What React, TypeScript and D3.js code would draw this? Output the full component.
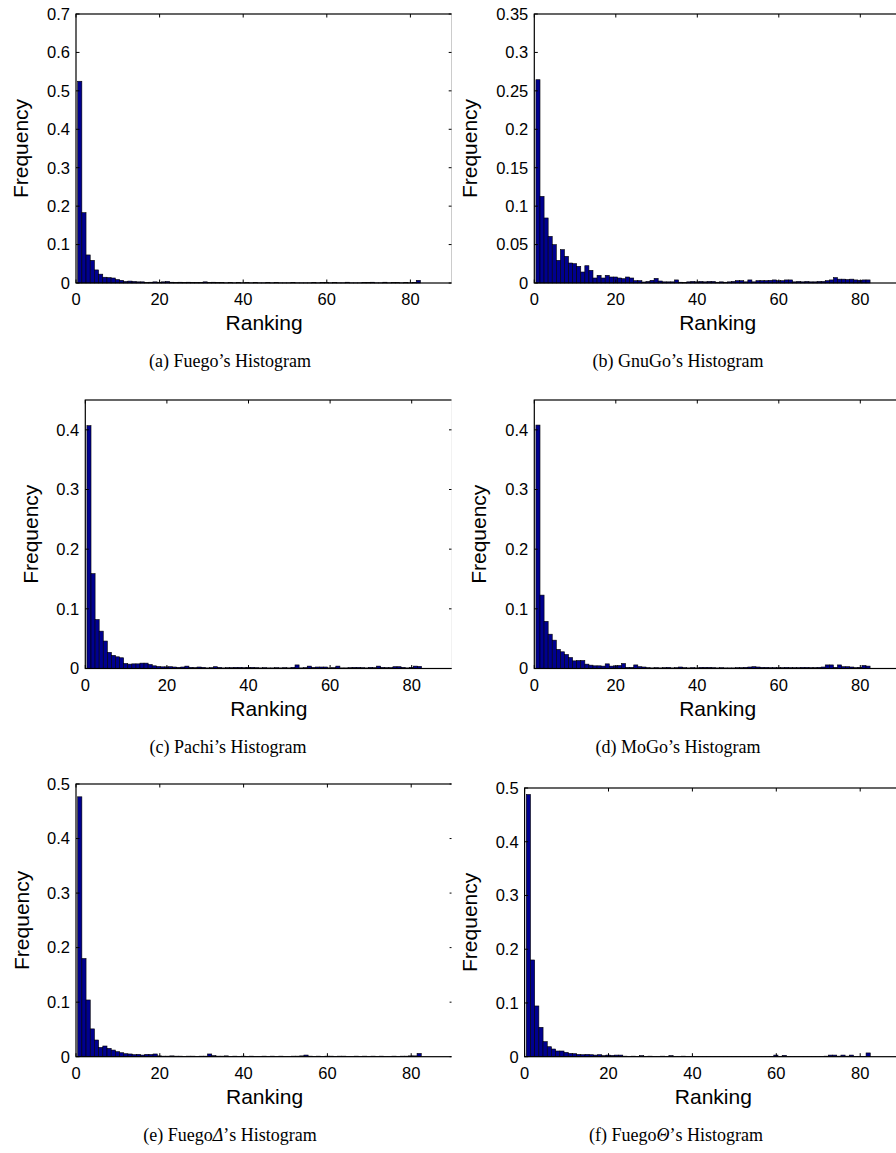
import React from 'react';
import * as d3 from 'd3';

// ---------- data (ranking 1..82) ----------
const fuego = [0.525,0.183,0.073,0.059,0.034,0.023,0.015,0.014,0.013,0.009,
0.007,0.004,0.005,0.004,0.003,0.003,0.001,0.002,0.003,0.002,
0.003,0.004,0.002,0.001,0.002,0.001,0.002,0.001,0.001,0.001,
0.003,0.001,0.002,0.001,0.001,0.0005,0.001,0.0005,0.001,0.0005,
0.001,0.0005,0.001,0.0005,0.0005,0.001,0.0005,0.001,0.0005,0.0005,
0.0005,0.001,0.0005,0.0005,0.0005,0.0005,0.001,0.0005,0.001,0.001,
0.0005,0.001,0.0005,0.0005,0.002,0.0005,0.0005,0.0005,0.001,0.001,
0.002,0.0005,0.0005,0.002,0.0005,0.001,0.001,0.0005,0.001,0.0005,
0.001,0.007];

const gnugo = [0.2645,0.1127,0.0846,0.0607,0.0499,0.0295,0.0434,0.0347,0.026,0.0252,
0.0217,0.0143,0.0225,0.0165,0.0065,0.010,0.0065,0.010,0.0078,0.0078,
0.0065,0.0056,0.0078,0.0065,0.003,0.003,0.0013,0.002,0.0035,0.006,
0.0026,0.0015,0.0015,0.0015,0.004,0.001,0.0005,0.0015,0.002,0.0015,
0.002,0.0015,0.002,0.002,0.001,0.0015,0.001,0.0015,0.002,0.003,
0.003,0.0015,0.004,0.0015,0.003,0.003,0.003,0.0035,0.004,0.003,
0.003,0.004,0.004,0.0015,0.002,0.0015,0.002,0.0015,0.0015,0.002,
0.002,0.003,0.004,0.007,0.005,0.005,0.0045,0.005,0.004,0.0035,
0.004,0.004];

const pachi = [0.407,0.159,0.082,0.0626,0.046,0.027,0.022,0.0196,0.018,0.0084,
0.0073,0.0078,0.0078,0.009,0.009,0.0067,0.0045,0.0034,0.0028,0.0028,
0.003,0.0025,0.002,0.0025,0.004,0.002,0.0015,0.0025,0.002,0.001,
0.0015,0.003,0.002,0.001,0.0015,0.0015,0.002,0.002,0.0015,0.002,
0.002,0.0015,0.001,0.0015,0.001,0.001,0.0015,0.001,0.0015,0.001,
0.002,0.006,0.001,0.0015,0.004,0.002,0.0025,0.0025,0.0025,0.001,
0.0015,0.004,0.001,0.001,0.0015,0.002,0.002,0.0015,0.001,0.002,
0.0015,0.004,0.002,0.0015,0.0015,0.003,0.003,0.002,0.001,0.002,
0.004,0.0035];

const mogo = [0.408,0.123,0.079,0.0575,0.0475,0.032,0.028,0.0235,0.0184,0.0128,
0.0134,0.0134,0.0073,0.0056,0.0045,0.0045,0.004,0.0078,0.004,0.0045,
0.005,0.0084,0.002,0.002,0.006,0.003,0.0025,0.0015,0.001,0.0015,
0.001,0.0015,0.002,0.001,0.0015,0.0025,0.0015,0.001,0.0015,0.001,
0.002,0.002,0.002,0.0015,0.001,0.0015,0.001,0.001,0.001,0.0015,
0.0015,0.002,0.0025,0.003,0.0025,0.002,0.002,0.0015,0.0015,0.0015,
0.0015,0.002,0.0015,0.0015,0.0015,0.002,0.002,0.0015,0.0015,0.002,
0.0025,0.006,0.006,0.002,0.006,0.003,0.003,0.0025,0.0015,0.002,
0.005,0.004];

const fuegoDelta = [0.4765,0.180,0.104,0.051,0.0306,0.017,0.0196,0.0153,0.0122,0.0092,
0.0073,0.0055,0.005,0.0037,0.0043,0.003,0.0043,0.004,0.005,0.0015,
0.001,0.001,0.0015,0.001,0.001,0.0005,0.001,0.001,0.0005,0.001,
0.001,0.005,0.002,0.001,0.001,0.0015,0.0005,0.001,0.0005,0.001,
0.0005,0.001,0.0005,0.0005,0.001,0.0005,0.001,0.0005,0.001,0.0005,
0.0005,0.001,0.001,0.0015,0.003,0.001,0.0005,0.001,0.0005,0.001,
0.001,0.0005,0.001,0.001,0.0005,0.0005,0.001,0.0005,0.001,0.0005,
0.001,0.0005,0.001,0.0005,0.0005,0.001,0.0005,0.001,0.001,0.0015,
0.0015,0.006];

const fuegoTheta = [0.488,0.180,0.0944,0.0547,0.028,0.0186,0.0143,0.0106,0.0106,0.0081,
0.0062,0.0056,0.0043,0.0037,0.0043,0.0037,0.003,0.0037,0.002,0.003,
0.0025,0.003,0.003,0.001,0.0005,0.001,0.0005,0.002,0.0005,0.001,
0.0005,0.0005,0.001,0.0005,0.002,0.0005,0.0005,0.001,0.0005,0.0005,
0.0005,0.0005,0.0005,0.0005,0.0005,0.0005,0.0005,0.0005,0.0005,0.0005,
0.0005,0.0005,0.0005,0.0005,0.0005,0.0005,0.0005,0.0005,0.0005,0.003,
0.0005,0.0025,0.0005,0.0005,0.0005,0.0005,0.0005,0.0005,0.0005,0.0005,
0.0005,0.001,0.003,0.003,0.001,0.003,0.001,0.003,0.0005,0.0005,
0.0005,0.007];

const xTicks = [0, 20, 40, 60, 80];
const yTicksA = [0, 0.1, 0.2, 0.3, 0.4, 0.5, 0.6, 0.7];
const yTicksB = [0, 0.05, 0.1, 0.15, 0.2, 0.25, 0.3, 0.35];
const yTicksCD = [0, 0.1, 0.2, 0.3, 0.4];
const yTicksEF = [0, 0.1, 0.2, 0.3, 0.4, 0.5];

const xLabel = 'Ranking';
const yLabel = 'Frequency';

const captions: (string | { i: string })[][] = [
  ['(a) Fuego’s Histogram'],
  ['(b) GnuGo’s Histogram'],
  ['(c) Pachi’s Histogram'],
  ['(d) MoGo’s Histogram'],
  ['(e) Fuego', { i: 'Δ' }, '’s Histogram'],
  ['(f) Fuego', { i: 'Θ' }, '’s Histogram'],
];

const seriesList = [fuego, gnugo, pachi, mogo, fuegoDelta, fuegoTheta];
const yMaxes = [0.7, 0.35, 0.45, 0.45, 0.5, 0.5];
const yTickSets = [yTicksA, yTicksB, yTicksCD, yTicksCD, yTicksEF, yTicksEF];

// ---------- layout ----------
const layouts = [
  { left: 76, top: 14, bottom: 283, ppu: 4.18, clipL: 0, clipR: 451.5, freqX: 23, capX: 230 },
  { left: 534.3, top: 14, bottom: 283, ppu: 4.075, clipL: 453, clipR: 896, freqX: 472, capX: 678 },
  { left: 85.3, top: 400, bottom: 668.5, ppu: 4.08, clipL: 0, clipR: 451.5, freqX: 32.5, capX: 228 },
  { left: 534.3, top: 400, bottom: 668.5, ppu: 4.075, clipL: 453, clipR: 896, freqX: 481, capX: 678 },
  { left: 76, top: 784, bottom: 1056.7, ppu: 4.19, clipL: 0, clipR: 451.5, freqX: 24, capX: 230 },
  { left: 524.6, top: 788, bottom: 1056.7, ppu: 4.195, clipL: 453, clipR: 896, freqX: 472, capX: 676 },
];

const FILL = '#00008f';
const SANS = '"Liberation Sans", Arial, Helvetica, sans-serif';
const SERIF = '"Liberation Serif", "Times New Roman", serif';
const fmt = (v: number) => (v === 0 ? '0' : String(+v.toFixed(2)));

function Panel({ idx }: { idx: number }) {
  const L = layouts[idx];
  const data = seriesList[idx];
  const yMax = yMaxes[idx];
  const x = d3.scaleLinear().domain([0, 90]).range([L.left, L.left + 90 * L.ppu]);
  const y = d3.scaleLinear().domain([0, yMax]).range([L.bottom, L.top]);
  const right = x(90);
  const bw = x(1) - x(0);
  const tl = 3.5;
  const clipId = `clip${idx}`;
  const midX = (L.left + right) / 2;
  const midY = (L.top + L.bottom) / 2;
  return (
    <g>
      <defs>
        <clipPath id={clipId}>
          <rect x={L.clipL} y={L.top - 20} width={L.clipR - L.clipL} height={L.bottom - L.top + 40} />
        </clipPath>
      </defs>
      <g clipPath={`url(#${clipId})`}>
        {data.map((v, i) => {
          const r = i + 1;
          const x0 = x(r - 0.6);
          return (
            <rect key={i} x={x0} y={y(v)} width={bw} height={L.bottom - y(v)}
              fill={FILL} stroke="#000" strokeWidth={0.6} />
          );
        })}
        <rect x={L.left} y={L.top} width={right - L.left} height={L.bottom - L.top}
          fill="none" stroke="#000" strokeWidth={1.2} />
        {xTicks.map((t) => (
          <g key={'xt' + t}>
            <line x1={x(t)} x2={x(t)} y1={L.bottom} y2={L.bottom - tl} stroke="#000" strokeWidth={1} />
            <line x1={x(t)} x2={x(t)} y1={L.top} y2={L.top + tl} stroke="#000" strokeWidth={1} />
          </g>
        ))}
        {yTickSets[idx].map((t) => (
          <g key={'yt' + t}>
            <line x1={L.left} x2={L.left + tl} y1={y(t)} y2={y(t)} stroke="#000" strokeWidth={1} />
            <line x1={right} x2={right - tl} y1={y(t)} y2={y(t)} stroke="#000" strokeWidth={1} />
          </g>
        ))}
      </g>
      {xTicks.map((t) => (
        <text key={'xl' + t} x={x(t)} y={L.bottom + 22} textAnchor="middle"
          fontFamily={SANS} fontSize={16.5} fill="#000">{t}</text>
      ))}
      {yTickSets[idx].map((t) => (
        <text key={'yl' + t} x={L.left - 6} y={y(t) + 5.8} textAnchor="end"
          fontFamily={SANS} fontSize={16.5} fill="#000">{fmt(t)}</text>
      ))}
      <text x={midX} y={L.bottom + 47} textAnchor="middle" fontFamily={SANS} fontSize={21} fill="#000">{xLabel}</text>
      <text transform={`translate(${L.freqX + 5.3},${midY}) rotate(-90)`} textAnchor="middle"
        fontFamily={SANS} fontSize={21} fill="#000">{yLabel}</text>
      <text x={L.capX} y={L.bottom + 84} textAnchor="middle" fontFamily={SERIF} fontSize={18} fill="#000">
        {captions[idx].map((c, k) =>
          typeof c === 'string' ? <tspan key={k}>{c}</tspan> : <tspan key={k} fontStyle="italic">{c.i}</tspan>
        )}
      </text>
    </g>
  );
}

export default function App() {
  return (
    <svg width={896} height={1153} viewBox="0 0 896 1153"
      style={{ position: 'absolute', left: 0, top: 0, background: '#fff' }}>
      <rect x={0} y={0} width={896} height={1153} fill="#fff" />
      {layouts.map((_, i) => <Panel key={i} idx={i} />)}
    </svg>
  );
}
